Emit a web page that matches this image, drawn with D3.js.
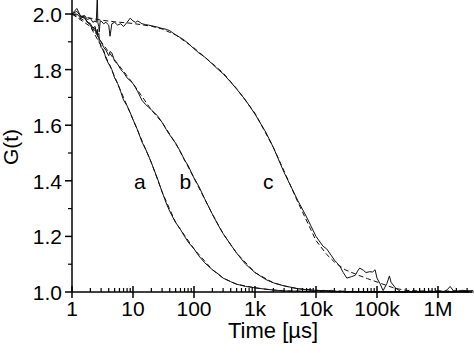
<!DOCTYPE html>
<html><head><meta charset="utf-8">
<script src="https://cdn.jsdelivr.net/npm/d3@7"></script>
<style>body{margin:0;background:#fff}svg{display:block}text{font-family:"Liberation Sans",Arial,sans-serif;fill:#000}</style>
</head><body><svg id="c" width="474" height="353"></svg>
<script>
// time grid (µs) for measured data
const tData = [1,1.2,1.4,1.6,1.8,2,2.2,2.4,2.5,2.6,2.65,2.75,2.8,2.9,3,3.3,3.6,4,4.2,4.5,5,5.6,6.3,7,8,9,10,11,12,14,16,18,20,25,30,35,40,50,60,70,80,100,120,150,200,250,300,400,500,700,1000,1500,2000,3000,5000,7000,10000,13000,15000,18000,20000,22000,25000,28000,32000,38000,44000,48000,52000,60000,66000,76000,85000,93000,100000,112000,126000,145000,160000,170000,200000,250000,320000,400000,500000,630000,800000,1000000,1260000,1410000,1580000,1780000,2000000,2500000,3200000,3900000];
const seriesA = [2.00,2.01,1.99,1.985,1.97,1.96,1.94,1.95,1.93,1.935,1.92,1.915,1.90,1.895,1.88,1.87,1.84,1.82,1.815,1.80,1.77,1.75,1.72,1.69,1.67,1.645,1.62,1.60,1.58,1.54,1.515,1.49,1.465,1.41,1.36,1.32,1.29,1.25,1.225,1.20,1.18,1.155,1.13,1.105,1.08,1.065,1.05,1.037,1.028,1.02,1.015,1.01,1.007,1.004,1.003,1.002,1.003,1.006,1.004,1.001,1.0,1.002,1.0,1.003,1.001,1.0,1.002,1.0,1.001,1.0,1.002,1.0,1.001,1.0,1.0,1.002,1.0,1.001,1.0,1.0,1.001,1.0,1.0,1.002,1.0,1.001,1.0,1.003,1.001,1.0,1.002,1.0,1.001,1.002,1.0];
const seriesB = [2.00,2.00,1.985,1.99,1.97,1.965,1.95,1.955,1.93,1.945,1.925,1.93,1.91,1.905,1.90,1.88,1.87,1.85,1.865,1.86,1.83,1.82,1.80,1.79,1.77,1.76,1.75,1.735,1.72,1.69,1.675,1.665,1.655,1.635,1.61,1.585,1.565,1.535,1.505,1.475,1.455,1.41,1.38,1.335,1.28,1.24,1.21,1.17,1.14,1.10,1.07,1.045,1.033,1.022,1.012,1.008,1.006,1.005,1.004,1.006,1.003,1.002,1.004,1.001,1.0,1.002,1.001,1.0,1.002,1.0,1.001,1.0,1.0,1.001,1.0,1.002,1.0,1.001,1.0,1.0,1.002,1.0,1.001,1.0,1.0,1.002,1.0,1.004,1.002,1.0,1.001,1.0,1.002,1.001,1.0];
const seriesC = [2.00,2.02,1.99,1.995,1.98,1.985,1.97,1.975,1.97,2.07,1.97,1.955,1.935,1.975,1.975,1.965,1.97,1.96,1.92,1.965,1.97,1.96,1.965,1.955,1.97,1.985,1.975,1.97,1.975,1.965,1.962,1.96,1.958,1.953,1.948,1.945,1.94,1.925,1.915,1.905,1.895,1.875,1.86,1.845,1.82,1.80,1.785,1.755,1.73,1.69,1.64,1.575,1.52,1.43,1.33,1.27,1.20,1.165,1.155,1.13,1.115,1.105,1.09,1.07,1.05,1.055,1.06,1.075,1.086,1.078,1.07,1.073,1.072,1.08,1.05,1.03,1.005,1.03,1.058,1.035,1.015,1.0,1.004,1.0,1.003,0.999,1.002,1.0,1.001,1.008,1.02,1.005,1.003,1.006,1.004];
// fitted curves (dashed)
const tFit = [1,2,3,5,10,20,30,50,100,200,300,500,1000,2000,3000,5000,10000,15000,20000,30000,50000,70000,100000,150000,200000,300000,500000,1000000,2000000,3900000];
const fitA = [2.0,1.955,1.885,1.775,1.62,1.465,1.36,1.25,1.155,1.08,1.05,1.028,1.015,1.007,1.004,1.003,1.002,1.001,1.001,1.0,1.0,1.0,1.0,1.0,1.0,1.0,1.0,1.0,1.0,1.0];
const fitB = [2.0,1.965,1.90,1.835,1.75,1.655,1.61,1.535,1.41,1.28,1.21,1.14,1.07,1.033,1.022,1.012,1.006,1.004,1.003,1.002,1.001,1.0,1.0,1.0,1.0,1.0,1.0,1.0,1.0,1.0];
const fitC = [2.0,1.985,1.978,1.972,1.966,1.956,1.946,1.925,1.878,1.822,1.788,1.732,1.643,1.52,1.435,1.325,1.185,1.135,1.108,1.08,1.06,1.048,1.036,1.022,1.013,1.006,1.004,1.003,1.004,1.005];
const xTickVals = [1,10,100,1000,10000,100000,1000000];
const xTickLabels = ["1","10","100","1k","10k","100k","1M"];
const yTickVals = [1.0,1.2,1.4,1.6,1.8,2.0];
const yMinorVals = [1.1,1.3,1.5,1.7,1.9];
const curveLabels = [{t:13,g:1.4,s:"a"},{t:72,g:1.4,s:"b"},{t:1650,g:1.4,s:"c"}];

const svg = d3.select("#c");
const x = d3.scaleLog().domain([1,1e6]).range([72,438]);
const y = d3.scaleLinear().domain([1,2]).range([292,14]);
const xEnd = 472;

const line = d3.line().x(d=>x(d[0])).y(d=>y(d[1]));
function draw(ts, vs, dash){
  svg.append("path").datum(ts.map((t,i)=>[t,vs[i]]))
    .attr("d",line).attr("fill","none").attr("stroke","#111")
    .attr("stroke-width",1).attr("stroke-dasharray",dash||null);
}
draw(tData,seriesA); draw(tData,seriesB); draw(tData,seriesC);
draw(tFit,fitA,"5,3"); draw(tFit,fitB,"5,3"); draw(tFit,fitC,"5,3");

// axes
const g = svg.append("g");
g.append("line").attr("x1",72).attr("x2",xEnd).attr("y1",292).attr("y2",292).attr("stroke","#000").attr("stroke-width",1.5);
g.append("line").attr("x1",72).attr("x2",72).attr("y1",0).attr("y2",292).attr("stroke","#000").attr("stroke-width",1.5);
// x ticks
const minorX = [];
for (let d=1; d<=1e6; d*=10) for (let m=2;m<=9;m++){ const v=d*m; if (x(v)<=xEnd) minorX.push(v);} 
g.selectAll(".xmin").data(minorX).enter().append("line")
  .attr("x1",d=>x(d)).attr("x2",d=>x(d)).attr("y1",292).attr("y2",288).attr("stroke","#000").attr("stroke-width",1.2);
g.selectAll(".xmaj").data(xTickVals).enter().append("line")
  .attr("x1",d=>x(d)).attr("x2",d=>x(d)).attr("y1",286).attr("y2",298).attr("stroke","#000").attr("stroke-width",1.5);
g.selectAll(".xl").data(xTickVals).enter().append("text")
  .attr("x",d=>x(d)).attr("y",316).attr("text-anchor","middle").attr("font-size",21)
  .text((d,i)=>xTickLabels[i]);
// y ticks
g.selectAll(".ymaj").data(yTickVals).enter().append("line")
  .attr("x1",65).attr("x2",72).attr("y1",d=>y(d)).attr("y2",d=>y(d)).attr("stroke","#000").attr("stroke-width",1.5);
g.selectAll(".ymin").data(yMinorVals).enter().append("line")
  .attr("x1",68).attr("x2",72).attr("y1",d=>y(d)).attr("y2",d=>y(d)).attr("stroke","#000").attr("stroke-width",1.2);
g.selectAll(".yl").data(yTickVals).enter().append("text")
  .attr("x",62).attr("y",d=>y(d)+8).attr("text-anchor","end").attr("font-size",21)
  .text(d=>d.toFixed(1));
// axis titles
svg.append("text").attr("x",273).attr("y",338).attr("text-anchor","middle").attr("font-size",22).text("Time [µs]");
svg.append("text").attr("transform","translate(18,147) rotate(-90)").attr("text-anchor","middle").attr("font-size",21).text("G(t)");
// curve labels
svg.selectAll(".cl").data(curveLabels).enter().append("text")
  .attr("x",d=>x(d.t)).attr("y",d=>y(d.g)+8).attr("text-anchor","middle").attr("font-size",21).text(d=>d.s);
</script></body></html>
